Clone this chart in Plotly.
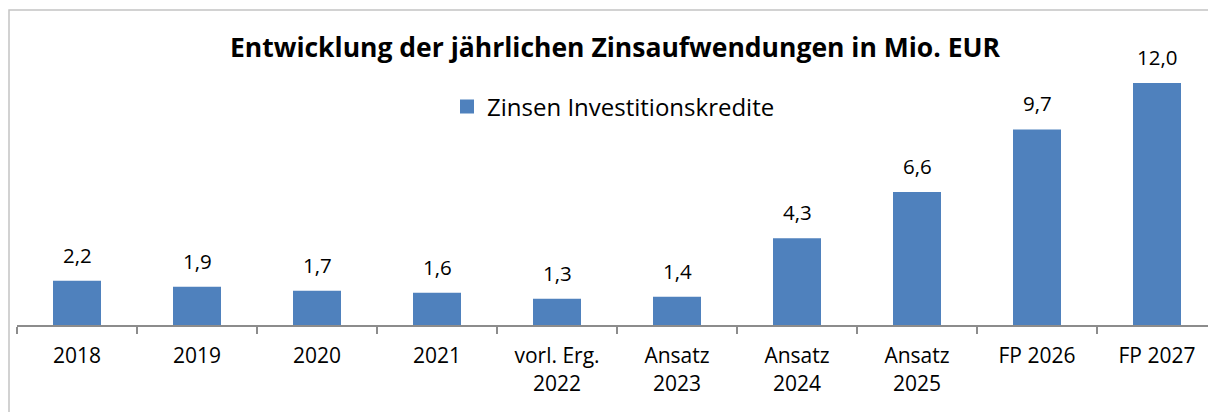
import plotly.graph_objects as go

# Chart data
categories = ["2018", "2019", "2020", "2021", "vorl. Erg.<br>2022",
              "Ansatz<br>2023", "Ansatz<br>2024", "Ansatz<br>2025",
              "FP 2026", "FP 2027"]
zinsen = [2.2, 1.9, 1.7, 1.6, 1.3, 1.4, 4.3, 6.6, 9.7, 12.0]
series_name = "Zinsen Investitionskredite"
title_text = "Entwicklung der jährlichen Zinsaufwendungen in Mio. EUR"

BAR_COLOR = "#4F81BD"
FONT = "Open Sans"

W, H = 1208, 412
ML, MR, MT, MB = 17, 0, 40, 87
plot_w = W - ML - MR
plot_h = H - MT - MB
cat_px = 120.0

fig = go.Figure()
fig.add_trace(go.Bar(
    x=categories,
    y=zinsen,
    name=series_name,
    marker=dict(color=BAR_COLOR, line=dict(width=0)),
    width=0.4,
    showlegend=False,
))

# legend entry with a larger square swatch
fig.add_trace(go.Scatter(
    x=[None], y=[None], mode="markers", name=series_name,
    marker=dict(symbol="square", size=14, color=BAR_COLOR),
    showlegend=True,
))

# value labels above the bars (category index positions)
for i, v in enumerate(zinsen):
    fig.add_annotation(
        x=i, y=v, text=f"{v:.1f}".replace(".", ","),
        showarrow=False, yanchor="bottom", yshift=10,
        font=dict(family=FONT, size=20.5, color="#000000"),
    )

# outer chart frame
fig.add_shape(
    type="rect", xref="paper", yref="paper",
    x0=(9 - ML) / plot_w, x1=1.05,
    y0=-0.5, y1=(MT + plot_h - 10) / plot_h,
    line=dict(color="#C4C4C4", width=1.5), fillcolor="rgba(0,0,0,0)",
    layer="below",
)

fig.update_layout(
    width=W, height=H,
    margin=dict(l=ML, r=MR, t=MT, b=MB),
    paper_bgcolor="white", plot_bgcolor="white",
    separators=",.",
    bargap=0.6,
    title=dict(
        text=f"<b>{title_text}</b>",
        x=615 / W, xanchor="center",
        y=1 - 48 / H, yanchor="middle",
        font=dict(family=FONT, size=26.5, color="#000000"),
    ),
    legend=dict(
        orientation="h",
        x=(447 - ML) / plot_w, xanchor="left",
        y=(plot_h - (107 - MT)) / plot_h, yanchor="middle",
        font=dict(family=FONT, size=24, color="#000000"),
        bgcolor="rgba(0,0,0,0)",
    ),
    xaxis=dict(
        type="category",
        range=[-0.5, -0.5 + plot_w / cat_px],
        showline=True, linecolor="#8C8C8C", linewidth=2,
        ticks="outside", tickson="boundaries", ticklen=7,
        tickcolor="#8C8C8C", tickwidth=2,
        ticklabelstandoff=11,
        showgrid=False, zeroline=False,
        tickfont=dict(family=FONT, size=21, color="#000000"),
        fixedrange=True,
    ),
    yaxis=dict(
        range=[0, plot_h / (242 / 12.0)],
        visible=False, showgrid=False, zeroline=False,
        fixedrange=True,
    ),
)

fig.write_html("out.html")
